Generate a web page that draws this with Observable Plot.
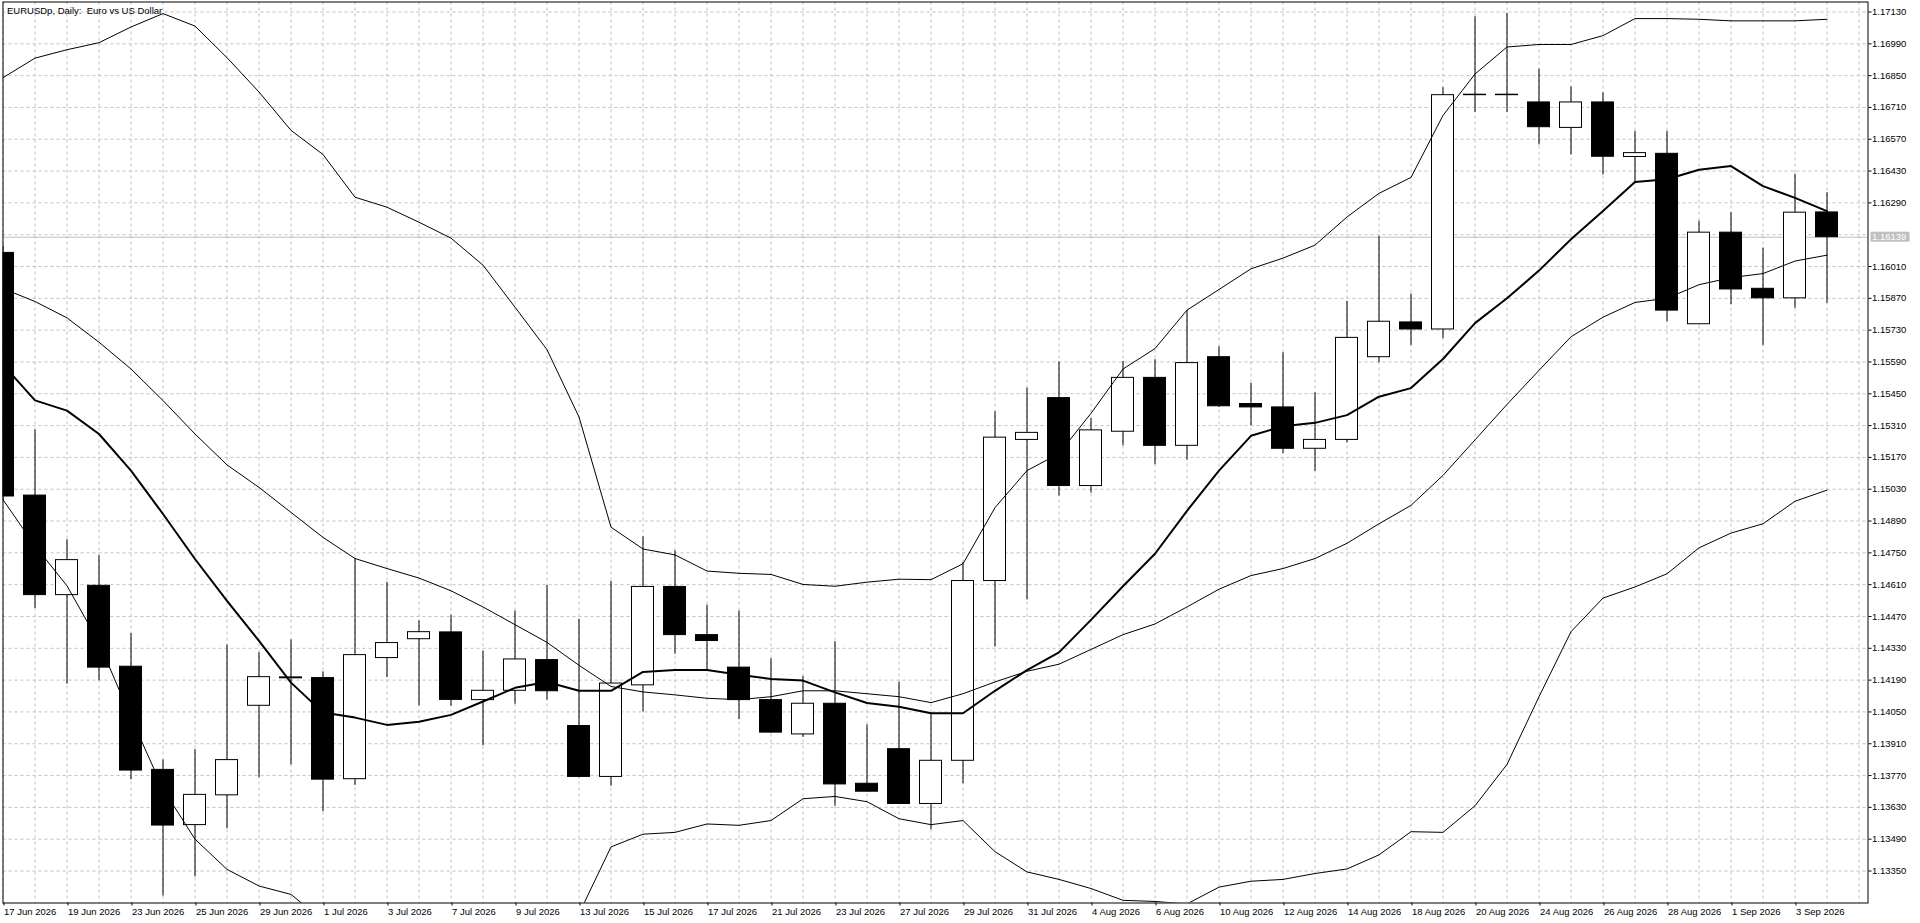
<!DOCTYPE html>
<html>
<head>
<meta charset="utf-8">
<script src="https://cdn.jsdelivr.net/npm/d3@7"></script>
<script src="https://cdn.jsdelivr.net/npm/@observablehq/plot@0.6"></script>
<style>
  html, body { margin: 0; padding: 0; background: #fff; overflow: hidden; }
  svg { display: block; }
</style>
</head>
<body>
<div id="chart"></div>
<script>
// ---- data ----
const title = "EURUSDp, Daily:  Euro vs US Dollar";

const dates = [
  "17 Jun 2026","18 Jun 2026","19 Jun 2026","22 Jun 2026","23 Jun 2026","24 Jun 2026","25 Jun 2026","26 Jun 2026","29 Jun 2026","30 Jun 2026",
  "1 Jul 2026","2 Jul 2026","3 Jul 2026","6 Jul 2026","7 Jul 2026","8 Jul 2026","9 Jul 2026","10 Jul 2026","13 Jul 2026","14 Jul 2026",
  "15 Jul 2026","16 Jul 2026","17 Jul 2026","20 Jul 2026","21 Jul 2026","22 Jul 2026","23 Jul 2026","24 Jul 2026","27 Jul 2026","28 Jul 2026",
  "29 Jul 2026","30 Jul 2026","31 Jul 2026","3 Aug 2026","4 Aug 2026","5 Aug 2026","6 Aug 2026","7 Aug 2026","10 Aug 2026","11 Aug 2026",
  "12 Aug 2026","13 Aug 2026","14 Aug 2026","17 Aug 2026","18 Aug 2026","19 Aug 2026","20 Aug 2026","21 Aug 2026","24 Aug 2026","25 Aug 2026",
  "26 Aug 2026","27 Aug 2026","28 Aug 2026","31 Aug 2026","1 Sep 2026","2 Sep 2026","3 Sep 2026","4 Sep 2026"
];

const open = [
  1.16070,1.15002,1.14564,1.14605,1.14249,1.13795,1.13552,1.13683,1.14077,1.14198,
  1.14199,1.13754,1.14287,1.14370,1.14400,1.14102,1.14143,1.14278,1.13988,1.13764,
  1.14167,1.14600,1.14388,1.14245,1.14102,1.13951,1.14086,1.13734,1.13886,1.13645,
  1.13835,1.14626,1.15247,1.15431,1.15044,1.15283,1.15520,1.15221,1.15611,1.15405,
  1.15390,1.15208,1.15247,1.15611,1.15764,1.15733,1.16764,1.16766,1.16732,1.16620,
  1.16732,1.16492,1.16506,1.15756,1.16159,1.15912,1.15870,1.16248
];
const high = [
  1.16100,1.15291,1.14808,1.14737,1.14395,1.13839,1.13884,1.14344,1.14311,1.14367,
  1.14226,1.14725,1.14620,1.14451,1.14475,1.14317,1.14494,1.14606,1.14458,1.14624,
  1.14821,1.14759,1.14520,1.14494,1.14284,1.14206,1.14359,1.13993,1.14180,1.14047,
  1.14707,1.15371,1.15475,1.15590,1.15341,1.15592,1.15600,1.15816,1.15657,1.15496,
  1.15631,1.15455,1.15857,1.16143,1.15889,1.16797,1.17109,1.17124,1.16878,1.16800,
  1.16774,1.16605,1.16605,1.16210,1.16247,1.16091,1.16416,1.16335
];
const low = [
  1.14980,1.14505,1.14172,1.14187,1.13751,1.13240,1.13324,1.13536,1.13761,1.13817,
  1.13611,1.13727,1.14201,1.14077,1.14075,1.13902,1.14084,1.14102,1.13760,1.13723,
  1.14050,1.14304,1.14232,1.14016,1.13955,1.13938,1.13635,1.13697,1.13643,1.13531,
  1.13734,1.14336,1.14543,1.15000,1.15013,1.15221,1.15138,1.15159,1.15390,1.15309,
  1.15187,1.15109,1.15234,1.15587,1.15663,1.15693,1.16688,1.16688,1.16545,1.16501,
  1.16413,1.16376,1.15767,1.15754,1.15842,1.15663,1.15826,1.15848
];
const close = [
  1.14998,1.14564,1.14718,1.14245,1.13792,1.13550,1.13685,1.13838,1.14203,1.14202,
  1.13752,1.14300,1.14353,1.14401,1.14103,1.14143,1.14281,1.14141,1.13764,1.14175,
  1.14600,1.14388,1.14362,1.14102,1.13959,1.14086,1.13731,1.13699,1.13645,1.13835,
  1.14626,1.15257,1.15278,1.15044,1.15289,1.15520,1.15221,1.15585,1.15395,1.15390,
  1.15208,1.15247,1.15696,1.15767,1.15733,1.16764,1.16766,1.16764,1.16623,1.16732,
  1.16493,1.16509,1.15816,1.16159,1.15909,1.15870,1.16247,1.16139
];

const bbUpper = [
  1.16841,1.16927,1.16964,1.16995,1.17064,1.17123,1.17068,1.16929,1.16778,1.16609,
  1.16503,1.16315,1.16271,1.16205,1.16135,1.16016,1.15831,1.15644,1.15348,1.14863,
  1.14767,1.14741,1.14670,1.14660,1.14655,1.14611,1.14603,1.14621,1.14634,1.14632,
  1.14702,1.14949,1.15112,1.15187,1.15364,1.15559,1.15649,1.15818,1.15909,1.16000,
  1.16047,1.16104,1.16228,1.16332,1.16402,1.16675,1.16857,1.16976,1.16987,1.16987,
  1.17026,1.17101,1.17101,1.17098,1.17091,1.17091,1.17091,1.17098
];
const bbMiddle = [
  1.15913,1.15856,1.15784,1.15677,1.15559,1.15420,1.15273,1.15137,1.15038,1.14928,
  1.14818,1.14725,1.14681,1.14639,1.14583,1.14512,1.14434,1.14356,1.14255,1.14162,
  1.14138,1.14125,1.14110,1.14104,1.14117,1.14143,1.14143,1.14130,1.14117,1.14091,
  1.14130,1.14182,1.14229,1.14260,1.14325,1.14390,1.14437,1.14512,1.14590,1.14650,
  1.14681,1.14725,1.14792,1.14878,1.14959,1.15091,1.15247,1.15403,1.15553,1.15701,
  1.15787,1.15852,1.15870,1.15930,1.15961,1.15979,1.16034,1.16060
];
const bbLower = [
  1.14984,1.14781,1.14605,1.14355,1.14025,1.13711,1.13490,1.13357,1.13284,1.13247,
  1.13132,1.13135,1.13091,1.13073,1.13031,1.13009,1.13037,1.13068,1.13162,1.13456,
  1.13512,1.13520,1.13557,1.13551,1.13572,1.13668,1.13678,1.13655,1.13580,1.13554,
  1.13572,1.13435,1.13346,1.13313,1.13273,1.13221,1.13216,1.13205,1.13279,1.13305,
  1.13313,1.13339,1.13359,1.13421,1.13523,1.13520,1.13637,1.13819,1.14117,1.14403,
  1.14551,1.14600,1.14658,1.14772,1.14837,1.14878,1.14977,1.15026
];
const maLine = [
  1.15578,1.15421,1.15376,1.15273,1.15112,1.14921,1.14723,1.14539,1.14363,1.14179,
  1.14047,1.14025,1.13993,1.14007,1.14037,1.14096,1.14156,1.14182,1.14143,1.14143,
  1.14226,1.14234,1.14234,1.14214,1.14195,1.14188,1.14136,1.14089,1.14073,1.14044,
  1.14044,1.14143,1.14234,1.14312,1.14455,1.14603,1.14746,1.14935,1.15112,1.15265,
  1.15307,1.15322,1.15356,1.15437,1.15475,1.15603,1.15761,1.15870,1.15992,1.16130,
  1.16254,1.16382,1.16394,1.16436,1.16452,1.16364,1.16312,1.16254
];

const priceTicks = [
  1.13350,1.13490,1.13630,1.13770,1.13910,1.14050,1.14190,1.14330,1.14470,1.14610,
  1.14750,1.14890,1.15030,1.15170,1.15310,1.15450,1.15590,1.15730,1.15870,1.16010,
  1.16150,1.16290,1.16430,1.16570,1.16710,1.16850,1.16990,1.17130
];
const priceDomain = [1.132092, 1.171740];

// ---- build ----
const n = dates.length;
const lastClose = close[n - 1];
const candles = dates.map((d, i) => ({i, date: d, open: open[i], high: high[i], low: low[i], close: close[i]}));
const series = arr => arr.map((v, i) => ({i, v}));
const xMax = 58.28125; // plot width in bar slots (32px each)
const gridCols = d3.range(0, 59);
const dateTicks = d3.range(0, n, 2);
const labelTicks = priceTicks.filter(v => Math.abs(v - lastClose) > 0.0003);
const pxPerUnit = (902.5 - 1.5) / (priceDomain[1] - priceDomain[0]);
const half = 11 / 32;
const font = "'Liberation Sans', Arial, sans-serif";

const chart = Plot.plot({
  width: 1920,
  height: 923,
  marginLeft: 2.5,
  marginRight: 52.5,
  marginTop: 1.5,
  marginBottom: 20.5,
  style: {fontFamily: font, fontSize: "9.5px", background: "#fff", color: "#000"},
  x: {type: "linear", domain: [0, xMax], axis: null},
  y: {type: "linear", domain: priceDomain, axis: null},
  marks: [
    Plot.gridX(gridCols, {stroke: "#c0c0c0", strokeOpacity: 1, strokeDasharray: "3,3"}),
    Plot.gridY(priceTicks, {stroke: "#c0c0c0", strokeOpacity: 1, strokeDasharray: "3,3"}),
    Plot.ruleY([lastClose], {stroke: "#c0c0c0", strokeWidth: 1}),
    Plot.ruleX(candles, {x: "i", y1: "low", y2: "high", stroke: "#000", strokeWidth: 1, clip: true}),
    Plot.rect(candles.filter(d => d.close < d.open), {
      x1: d => d.i - half, x2: d => d.i + half, y1: "open", y2: "close",
      fill: "#000", stroke: "#000", strokeWidth: 1, clip: true
    }),
    Plot.rect(candles.filter(d => d.close >= d.open), {
      x1: d => d.i - half, x2: d => d.i + half, y1: "open", y2: "close",
      fill: "#fff", stroke: "#000", strokeWidth: 1, clip: true
    }),
    Plot.line(series(bbUpper), {x: "i", y: "v", stroke: "#000", strokeWidth: 1, clip: true}),
    Plot.line(series(bbMiddle), {x: "i", y: "v", stroke: "#000", strokeWidth: 1, clip: true}),
    Plot.line(series(bbLower), {x: "i", y: "v", stroke: "#000", strokeWidth: 1, clip: true}),
    Plot.line(series(maLine), {x: "i", y: "v", stroke: "#000", strokeWidth: 2, clip: true}),
    Plot.frame({stroke: "#000", strokeWidth: 1}),
    Plot.axisX(dateTicks, {
      anchor: "bottom", tickSize: 3, tickPadding: 2.5, label: null,
      tickFormat: i => dates[i], textAnchor: "start", dx: 1, fill: "#000", stroke: "#000"
    }),
    Plot.axisY(labelTicks, {
      anchor: "right", tickSize: 3, tickPadding: 1, label: null,
      tickFormat: d => d.toFixed(5), fill: "#000", stroke: "#000"
    }),
    Plot.rect([lastClose], {
      x1: () => xMax + 3 / 32, x2: () => xMax + 42 / 32,
      y1: d => d - 5 / pxPerUnit, y2: d => d + 5 / pxPerUnit,
      fill: "#c0c0c0"
    }),
    Plot.text([lastClose], {
      x: () => xMax + 4 / 32, y: d => d, text: d => d.toFixed(5),
      textAnchor: "start", fill: "#fff", fontSize: 9.5
    }),
    Plot.text([title], {
      frameAnchor: "top-left", dx: 4, dy: 5, textAnchor: "start", lineAnchor: "top",
      fill: "#000", fontSize: 9.5, style: "white-space: pre"
    })
  ]
});

document.getElementById("chart").appendChild(chart);
</script>
</body>
</html>
